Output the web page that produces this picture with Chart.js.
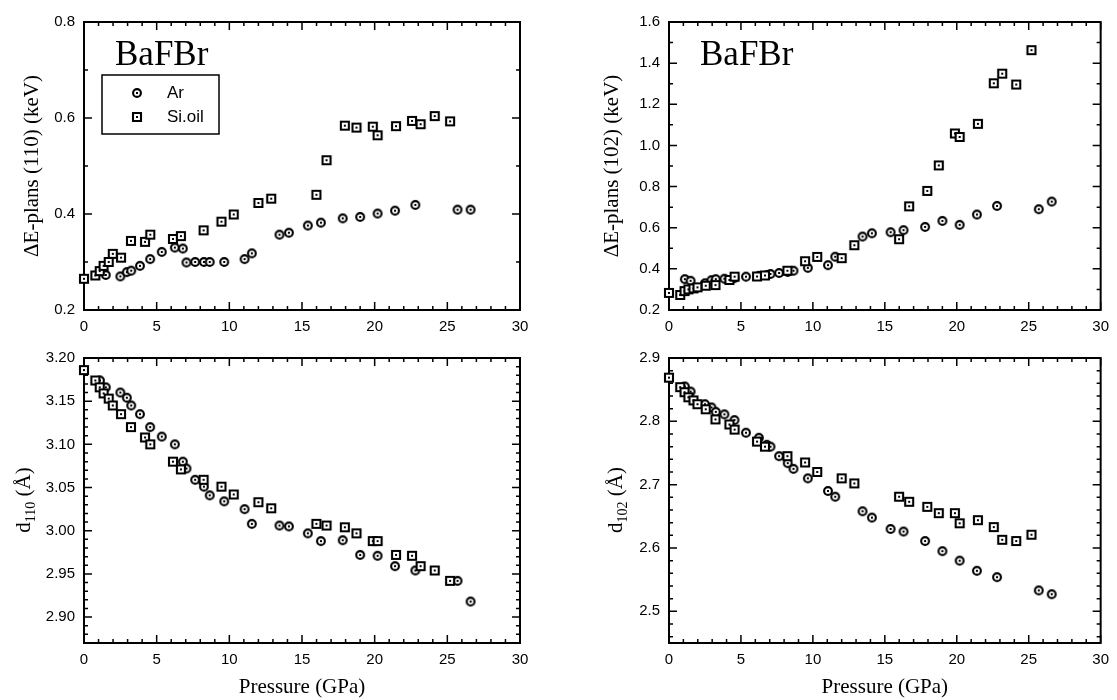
<!DOCTYPE html>
<html>
<head>
<meta charset="utf-8">
<title>BaFBr under pressure</title>
<script src="https://cdn.jsdelivr.net/npm/chart.js@4.4.1/dist/chart.umd.min.js"></script>
<style>
    body { margin: 0; background: #fff; }
    #wrap { position: relative; width: 1117px; height: 700px; }
    canvas { position: absolute; }
</style>
</head>
<body>
<div id="wrap">
    <canvas id="e110" width="558" height="340" style="left:0;top:0"></canvas>
    <canvas id="e102" width="559" height="340" style="left:558px;top:0"></canvas>
    <canvas id="d110" width="558" height="360" style="left:0;top:340px"></canvas>
    <canvas id="d102" width="559" height="360" style="left:558px;top:340px"></canvas>
</div>
<script>
// pressures (GPa) of the two runs
const pressureAr = [1.1, 1.5, 2.5, 2.95, 3.25, 3.85, 4.55, 5.35, 6.25, 6.8, 7.05, 7.65, 8.25, 8.65, 9.65, 11.05, 11.55, 13.45, 14.1, 15.4, 16.3, 17.8, 19.0, 20.2, 21.4, 22.8, 25.7, 26.6];
const pressureSi = [0, 0.78, 1.08, 1.35, 1.7, 1.98, 2.55, 3.23, 4.2, 4.56, 6.12, 6.67, 8.23, 9.46, 10.3, 12.0, 12.88, 15.99, 16.69, 17.95, 18.75, 19.87, 20.2, 21.47, 22.57, 23.16, 24.13, 25.19];

// line width dE (keV)
const dE110Ar = [null, 0.273, 0.270, 0.279, 0.282, 0.292, 0.306, 0.321, 0.330, 0.328, 0.299, 0.300, 0.300, 0.300, 0.300, 0.306, 0.318, 0.357, 0.361, 0.376, 0.382, 0.391, 0.394, 0.401, 0.407, 0.419, 0.409, 0.409];
const dE110Si = [0.265, 0.272, 0.281, 0.292, 0.300, 0.317, 0.309, 0.344, 0.342, 0.357, 0.348, 0.354, 0.366, 0.384, 0.399, 0.423, 0.432, 0.440, 0.512, 0.584, 0.580, 0.582, 0.564, 0.583, 0.594, 0.587, 0.604, 0.593];
const dE102Ar = [0.350, 0.342, 0.330, 0.345, 0.350, 0.352, 0.355, 0.362, 0.366, 0.370, 0.375, 0.380, 0.385, 0.391, 0.405, 0.418, 0.459, 0.557, 0.573, 0.578, 0.588, 0.604, 0.633, 0.614, 0.664, 0.706, 0.690, 0.727];
const dE102Si = [0.283, 0.273, 0.292, 0.300, 0.305, 0.310, 0.318, 0.321, 0.346, 0.362, 0.363, 0.368, 0.391, 0.437, 0.458, 0.452, 0.515, 0.544, 0.704, 0.779, 0.903, 1.058, 1.041, 1.105, 1.302, 1.349, 1.296, 1.463];

// d-spacings (A)
const d110Ar = [3.174, 3.166, 3.160, 3.154, 3.145, 3.135, 3.120, 3.109, 3.100, 3.080, 3.072, 3.059, 3.051, 3.041, 3.034, 3.025, 3.008, 3.006, 3.005, 2.997, 2.988, 2.989, 2.972, 2.971, 2.959, 2.954, 2.942, 2.918];
const d110Si = [3.186, 3.174, 3.166, 3.159, 3.153, 3.145, 3.135, 3.120, 3.108, 3.100, 3.080, 3.071, 3.059, 3.051, 3.042, 3.033, 3.026, 3.008, 3.006, 3.004, 2.997, 2.988, 2.988, 2.972, 2.971, 2.959, 2.954, 2.942];
const d102Ar = [2.855, 2.847, 2.827, 2.822, 2.815, 2.811, 2.802, 2.782, 2.774, 2.763, 2.760, 2.745, 2.734, 2.725, 2.710, 2.690, 2.681, 2.658, 2.648, 2.630, 2.626, 2.611, 2.595, 2.580, 2.564, 2.554, 2.533, 2.527];
const d102Si = [2.869, 2.854, 2.846, 2.838, 2.833, 2.827, 2.819, 2.803, 2.795, 2.787, 2.768, 2.760, 2.745, 2.735, 2.720, 2.710, 2.702, 2.681, 2.673, 2.665, 2.655, 2.655, 2.639, 2.644, 2.633, 2.613, 2.611, 2.621];

// tick labels
const pressureTicks = [0, 5, 10, 15, 20, 25, 30];
const ticksE110 = [0.2, 0.4, 0.6, 0.8];
const ticksE102 = [0.2, 0.4, 0.6, 0.8, 1.0, 1.2, 1.4, 1.6];
const ticksD110 = [2.90, 2.95, 3.00, 3.05, 3.10, 3.15, 3.20];
const ticksD102 = [2.5, 2.6, 2.7, 2.8, 2.9];

const sans = "'Liberation Sans', Arial, sans-serif";
const serif = "'Liberation Serif', 'Times New Roman', serif";

// open markers with a dot in the middle
function makeMark(shape) {
    const c = document.createElement('canvas');
    c.width = 12;
    c.height = 12;
    const g = c.getContext('2d');
    g.fillStyle = '#fff';
    g.strokeStyle = '#000';
    g.lineWidth = 2.1;
    g.beginPath();
    if (shape === 'circle') {
        g.arc(6, 6, 3.9, 0, Math.PI * 2);
    } else {
        g.rect(2, 2, 8, 8);
    }
    g.fill();
    g.stroke();
    g.fillStyle = '#000';
    g.fillRect(5, 5, 2, 2);
    return c;
}
const circleMark = makeMark('circle');
const squareMark = makeMark('square');

function pairs(xs, ys) {
    return xs.map((x, i) => ({ x: x, y: ys[i] })).filter(p => p.y !== null);
}

// inner ticks on all four sides, the box, and the text inside the frame
function panelPlugin(cfg) {
    return {
        id: 'panel',
        beforeDatasetsDraw(chart) {
            const { ctx, chartArea: a, scales: { x, y } } = chart;
            ctx.save();
            ctx.strokeStyle = '#000';
            ctx.lineWidth = 1.5;
            ctx.beginPath();
            for (let p = 0; p <= 30; p++) {
                const px = x.getPixelForValue(p);
                const len = p % 5 === 0 ? 8 : 4;
                ctx.moveTo(px, a.bottom); ctx.lineTo(px, a.bottom - len);
                ctx.moveTo(px, a.top); ctx.lineTo(px, a.top + len);
            }
            const ratio = Math.round(cfg.major / cfg.minor);
            const k0 = Math.ceil(y.min / cfg.minor - 1e-6);
            const k1 = Math.floor(y.max / cfg.minor + 1e-6);
            for (let k = k0; k <= k1; k++) {
                const py = y.getPixelForValue(k * cfg.minor);
                const len = k % ratio === 0 ? 8 : 4;
                ctx.moveTo(a.left, py); ctx.lineTo(a.left + len, py);
                ctx.moveTo(a.right, py); ctx.lineTo(a.right - len, py);
            }
            ctx.stroke();
            ctx.lineWidth = 2;
            ctx.strokeRect(a.left, a.top, a.right - a.left, a.bottom - a.top);
            ctx.restore();
        },
        afterDraw(chart) {
            const { ctx, chartArea: a } = chart;
            ctx.save();
            ctx.fillStyle = '#000';
            if (cfg.name) {
                ctx.font = '35px ' + serif;
                ctx.textBaseline = 'alphabetic';
                ctx.fillText(cfg.name, a.left + 31, a.top + 43);
            }
            if (cfg.legend) {
                ctx.strokeStyle = '#000';
                ctx.lineWidth = 1.5;
                ctx.strokeRect(a.left + 18, a.top + 53, 117, 59);
                ctx.font = '17px ' + sans;
                ctx.textBaseline = 'middle';
                ctx.drawImage(circleMark, a.left + 47, a.top + 65);
                ctx.fillText('Ar', a.left + 83, a.top + 71);
                ctx.drawImage(squareMark, a.left + 47, a.top + 89);
                ctx.fillText('Si.oil', a.left + 83, a.top + 95);
            }
            if (cfg.sub) {
                // y title with a subscript: d_hkl (Å)
                ctx.translate(cfg.subX, cfg.subY);
                ctx.rotate(-Math.PI / 2);
                ctx.textBaseline = 'alphabetic';
                ctx.font = '21px ' + serif;
                const w1 = ctx.measureText('d').width;
                const w3 = ctx.measureText(' (\u00c5)').width;
                ctx.font = '14px ' + serif;
                const w2 = ctx.measureText(cfg.sub).width;
                const x0 = -(w1 + w2 + w3) / 2;
                ctx.font = '21px ' + serif;
                ctx.fillText('d', x0, 0);
                ctx.fillText(' (\u00c5)', x0 + w1 + w2, 0);
                ctx.font = '14px ' + serif;
                ctx.fillText(cfg.sub, x0 + w1, 5);
            }
            ctx.restore();
        }
    };
}

function makePanel(id, cfg) {
    const tickFont = { family: sans, size: 15 };
    const ctx = document.getElementById(id).getContext('2d');
    return new Chart(ctx, {
        type: 'scatter',
        data: {
            datasets: [{
                label: 'Si.oil',
                data: pairs(pressureSi, cfg.si),
                pointStyle: squareMark,
                pointRadius: 5,
                clip: false,
                order: 0
            }, {
                label: 'Ar',
                data: pairs(pressureAr, cfg.ar),
                pointStyle: circleMark,
                pointRadius: 5,
                clip: false,
                order: 1
            }]
        },
        options: {
            responsive: false,
            animation: false,
            events: [],
            layout: { padding: { top: cfg.top, right: cfg.right, left: 0, bottom: 0 } },
            plugins: { legend: { display: false }, tooltip: { enabled: false } },
            scales: {
                x: {
                    type: 'linear',
                    min: 0,
                    max: 30,
                    afterBuildTicks: s => { s.ticks = pressureTicks.map(v => ({ value: v })); },
                    afterFit: s => { s.height = cfg.xHeight; },
                    grid: { display: false, drawTicks: false },
                    border: { display: false },
                    ticks: { color: '#000', font: tickFont, padding: 8, maxRotation: 0, autoSkip: false },
                    title: {
                        display: !!cfg.xTitle,
                        text: 'Pressure (GPa)',
                        color: '#000',
                        font: { family: serif, size: 21 },
                        padding: { top: 4, bottom: 0 }
                    }
                },
                y: {
                    type: 'linear',
                    min: cfg.yMin,
                    max: cfg.yMax,
                    afterBuildTicks: s => { s.ticks = cfg.yTicks.map(v => ({ value: v })); },
                    afterFit: s => { s.width = cfg.yWidth; },
                    grid: { display: false, drawTicks: false },
                    border: { display: false },
                    ticks: {
                        color: '#000', font: tickFont, padding: 9, autoSkip: false,
                        callback: v => v.toFixed(cfg.digits)
                    },
                    title: {
                        display: !!cfg.yTitle,
                        text: cfg.yTitle || '',
                        color: '#000',
                        font: { family: serif, size: 21 },
                        padding: { top: cfg.yTitlePad || 0, bottom: 0 }
                    }
                }
            }
        },
        plugins: [panelPlugin(cfg)]
    });
}

makePanel('e110', {
    ar: dE110Ar, si: dE110Si, yMin: 0.2, yMax: 0.8, yTicks: ticksE110, digits: 1,
    minor: 0.1, major: 0.2, top: 22, right: 38, yWidth: 84, xHeight: 30,
    yTitle: '\u0394E-plans (110) (keV)', yTitlePad: 20, name: 'BaFBr', legend: true
});
makePanel('e102', {
    ar: dE102Ar, si: dE102Si, yMin: 0.2, yMax: 1.6, yTicks: ticksE102, digits: 1,
    minor: 0.1, major: 0.2, top: 22, right: 12, yWidth: 111, xHeight: 30,
    yTitle: '\u0394E-plans (102) (keV)', yTitlePad: 42, name: 'BaFBr'
});
makePanel('d110', {
    ar: d110Ar, si: d110Si, yMin: 2.87, yMax: 3.20, yTicks: ticksD110, digits: 2,
    minor: 0.01, major: 0.05, top: 12, right: 38, yWidth: 84, xHeight: 57,
    xTitle: true, sub: '110', subX: 30, subY: 160
});
makePanel('d102', {
    ar: d102Ar, si: d102Si, yMin: 2.45, yMax: 2.9, yTicks: ticksD102, digits: 1,
    minor: 0.02, major: 0.1, top: 12, right: 12, yWidth: 111, xHeight: 57,
    xTitle: true, sub: '102', subX: 64, subY: 160
});
</script>
</body>
</html>
